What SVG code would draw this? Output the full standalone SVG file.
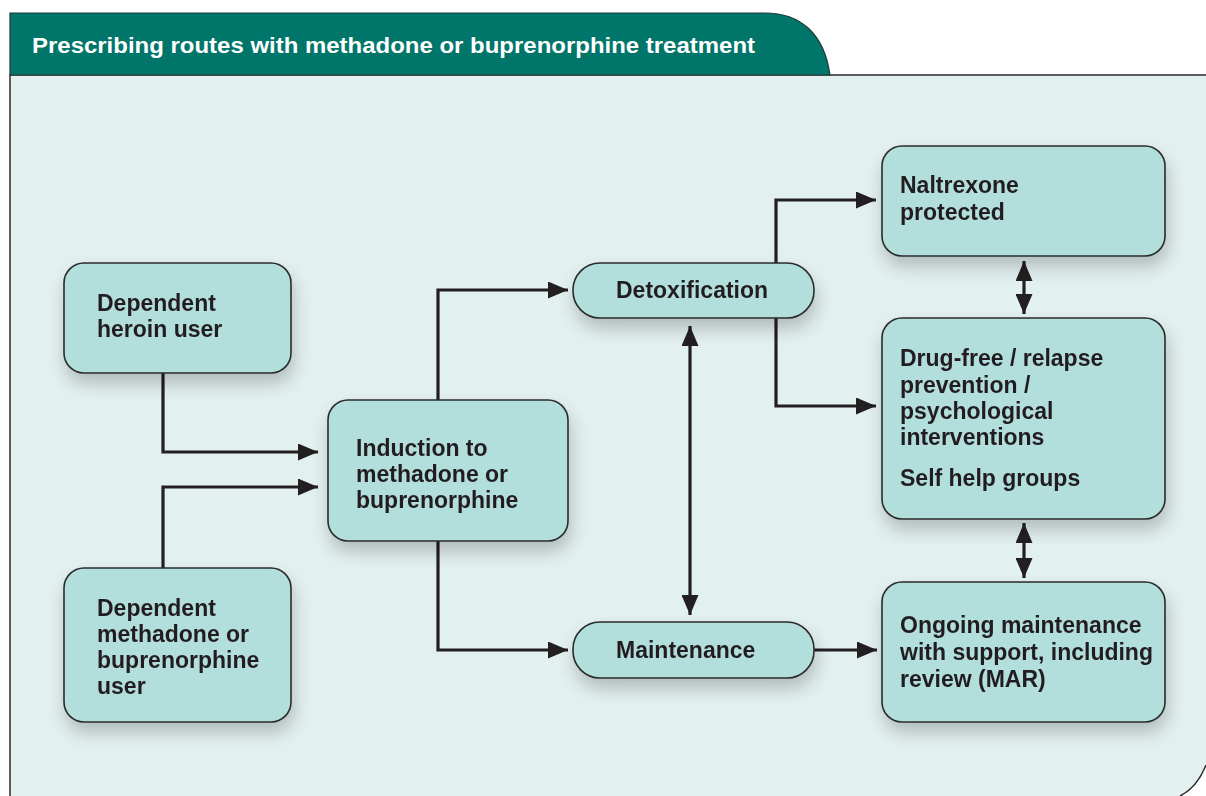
<svg xmlns="http://www.w3.org/2000/svg" width="1206" height="796" viewBox="0 0 1206 796">
<defs>
<filter id="sh" x="-20%" y="-60%" width="140%" height="260%">
<feGaussianBlur in="SourceAlpha" stdDeviation="9"/>
<feOffset dx="2" dy="10" result="b"/>
<feComponentTransfer><feFuncA type="linear" slope="0.22"/></feComponentTransfer>
<feMerge><feMergeNode/><feMergeNode in="SourceGraphic"/></feMerge>
</filter>
<marker id="ah" viewBox="0 0 20 17" refX="20" refY="8.5" markerWidth="20" markerHeight="17" markerUnits="userSpaceOnUse" orient="auto-start-reverse">
<path d="M0,0 L20,8.5 L0,17 Z" fill="#231f20"/>
</marker>
</defs>
<style>
.box{fill:#b2dfdb;stroke:#2b2b2b;stroke-width:1.6}
.t{font-family:"Liberation Sans",Arial,sans-serif;font-weight:bold;font-size:23px;fill:#231f20}
.c{fill:none;stroke:#231f20;stroke-width:3.2}
</style>
<rect width="1206" height="796" fill="#ffffff"/>
<path d="M10,796 V75 H1206 V765 C1200,780 1192,790 1180,796 Z" fill="#e2f0ef"/>
<path d="M10,796 V75 H1206" fill="none" stroke="#2b2b2b" stroke-width="1.5"/>
<path d="M1206,765 C1200,780 1192,790 1180,796" fill="none" stroke="#2b2b2b" stroke-width="1.5"/>
<g id="header">
<path d="M10,75 V13 H765 C800,13 824,33 830,75 Z" fill="#00756a" stroke="#1f3b37" stroke-width="1.2"/>
<text x="32" y="53" font-family="'Liberation Sans',Arial,sans-serif" font-weight="bold" font-size="22" fill="#ffffff" textLength="723" lengthAdjust="spacingAndGlyphs">Prescribing routes with methadone or buprenorphine treatment</text>
</g>
<g id="connectors">
<polyline class="c" points="163,373 163,452 318,452" marker-end="url(#ah)"/>
<polyline class="c" points="163,568 163,487 318,487" marker-end="url(#ah)"/>
<polyline class="c" points="438,400 438,290 568,290" marker-end="url(#ah)"/>
<polyline class="c" points="438,541 438,650 568,650" marker-end="url(#ah)"/>
<polyline class="c" points="776,263 776,200 876,200" marker-end="url(#ah)"/>
<polyline class="c" points="776,318 776,406 876,406" marker-end="url(#ah)"/>
<line class="c" x1="690" y1="326" x2="690" y2="615" marker-start="url(#ah)" marker-end="url(#ah)"/>
<line class="c" x1="1024" y1="261" x2="1024" y2="314" marker-start="url(#ah)" marker-end="url(#ah)"/>
<line class="c" x1="1024" y1="523" x2="1024" y2="578" marker-start="url(#ah)" marker-end="url(#ah)"/>
<line class="c" x1="814" y1="650" x2="877" y2="650" marker-end="url(#ah)"/>
</g>
<g id="heroin" filter="url(#sh)">
<rect class="box" x="64" y="263" width="227" height="110" rx="20"/>
<text class="t" x="97" y="311">Dependent</text>
<text class="t" x="97" y="337">heroin user</text>
</g>
<g id="methadone-user" filter="url(#sh)">
<rect class="box" x="64" y="568" width="227" height="154" rx="20"/>
<text class="t" x="97" y="616">Dependent</text>
<text class="t" x="97" y="642">methadone or</text>
<text class="t" x="97" y="668">buprenorphine</text>
<text class="t" x="97" y="694">user</text>
</g>
<g id="induction" filter="url(#sh)">
<rect class="box" x="328" y="400" width="240" height="141" rx="20"/>
<text class="t" x="356" y="456">Induction to</text>
<text class="t" x="356" y="482">methadone or</text>
<text class="t" x="356" y="508">buprenorphine</text>
</g>
<g id="detox" filter="url(#sh)">
<rect class="box" x="573" y="263" width="241" height="55" rx="27"/>
<text class="t" x="616" y="298">Detoxification</text>
</g>
<g id="maintenance" filter="url(#sh)">
<rect class="box" x="573" y="622" width="241" height="56" rx="27"/>
<text class="t" x="616" y="658">Maintenance</text>
</g>
<g id="naltrexone" filter="url(#sh)">
<rect class="box" x="882" y="146" width="283" height="110" rx="20"/>
<text class="t" x="900" y="193">Naltrexone</text>
<text class="t" x="900" y="220">protected</text>
</g>
<g id="drugfree" filter="url(#sh)">
<rect class="box" x="882" y="318" width="283" height="201" rx="20"/>
<text class="t" x="900" y="366">Drug-free / relapse</text>
<text class="t" x="900" y="393">prevention /</text>
<text class="t" x="900" y="419">psychological</text>
<text class="t" x="900" y="445">interventions</text>
<text class="t" x="900" y="486">Self help groups</text>
</g>
<g id="ongoing" filter="url(#sh)">
<rect class="box" x="882" y="582" width="283" height="140" rx="20"/>
<text class="t" x="900" y="633">Ongoing maintenance</text>
<text class="t" x="900" y="660">with support, including</text>
<text class="t" x="900" y="687">review (MAR)</text>
</g>
</svg>
